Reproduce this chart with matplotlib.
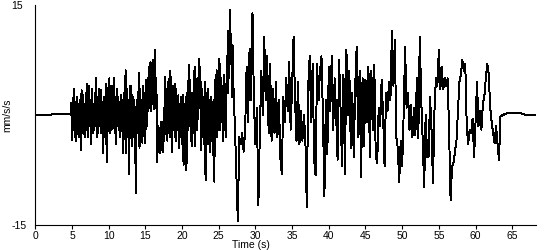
import numpy as np
import matplotlib
matplotlib.use('Agg')
import matplotlib.pyplot as plt

plt.rcParams['font.family'] = ['Liberation Sans', 'DejaVu Sans']
plt.rcParams['font.size'] = 7.5

# quiet trace before the first arrival
pre_t = [0.0, 2.2, 2.2, 4.8]
pre_v = [0.0, 0.0, 0.1, 0.1]

# strong shaking, every 0.1 s (one row = one second)
burst_t0 = 4.8
burst_dt = 0.1
burst_v = [
  0.0, 1.6,
  -3.4, 2.3, -2.0, 3.6, -3.0, 1.8, -3.6, 2.5, -2.2, 1.5,     # 5
  -3.0, 2.0, -4.8, 3.4, -2.5, 2.8, -2.6, 1.5, -3.0, 3.0,     # 6
  -2.0, 4.3, -3.0, 4.0, -1.5, 2.0, -3.9, 3.6, -2.5, 1.5,     # 7
  -2.0, 3.0, -1.5, 5.0, -3.0, 2.5, -2.5, 3.5, -1.5, 3.4,     # 8
  -2.5, 1.0, -5.2, 2.5, -3.0, 1.5, -4.0, 4.3, -6.4, 3.5,     # 9
  -2.0, 5.0, -2.5, 3.0, -2.0, 4.0, -1.5, 5.0, -2.5, 2.5,     # 10
  -3.9, 3.6, -1.5, 2.5, -2.0, 1.8, -3.0, 2.8, -1.5, 2.0,     # 11
  -5.2, 3.0, -2.0, 6.1, -5.2, 3.5, -3.0, 2.0, -8.0, 3.9,     # 12
  -2.5, 3.9, -4.3, 2.5, -3.0, 2.0, -2.0, -10.6, 2.0, -2.5,   # 13
  -1.0, 5.7, -4.5, 3.5, -3.0, 2.0, -3.8, 4.0, -2.0, 3.0,     # 14
  -3.8, 4.8, -1.5, 5.0, 0.5, 6.5, 1.0, 7.3, 0.5, 6.8,        # 15
  1.5, 7.5, 0.8, 8.9, 1.0, 5.0, -6.4, -1.5, -5.0, -1.8,      # 16
  -5.2, -1.0, -4.8, -1.2, -5.0, 1.0, -3.5, 5.2, -2.0, 3.5,   # 17
  -3.5, 4.5, -2.5, 6.0, -3.0, 5.2, -5.0, 4.0, -2.0, 3.5,     # 18
  -3.0, 4.3, -3.5, 2.5, -2.0, 2.7, -4.5, 1.5, -3.0, 2.5,     # 19
  -4.0, 2.8, -6.8, 1.5, -3.0, 2.5, -7.5, 3.0, -2.0, 6.8,     # 20
  -1.5, 4.8, -3.5, 3.0, -4.3, 2.5, -2.5, 6.6, -4.3, 4.8,     # 21
  -2.0, 5.0, -0.5, 7.7, 1.0, 6.5, -4.8, 3.5, -3.0, 2.5,      # 22
  -4.0, 4.5, -8.9, 3.0, -2.5, 3.5, -4.0, 2.0, -5.0, 2.5,     # 23
  -3.5, 1.8, -5.5, 2.0, -9.1, 4.8, -1.5, 6.1, -3.0, 4.0,     # 24
  -2.0, 7.7, -2.0, 5.0, -1.0, 4.0, -3.5, 5.5, -2.0, 4.3,     # 25
  -3.0, 8.0, 3.0, 11.5, 5.0, 14.3, 7.0, 11.0, 2.5, 9.5,      # 26
]

# later, slower part, read every 0.2 s
late_t0 = 27.0
late_dt = 0.2
late_v = [
  4.0, -1.5, -8.0, -14.5, -3.0,   # 27
  -4.0, -2.5, -5.0, -2.0, 6.6,    # 28
  -1.0, 9.0, 2.0, 13.9, 1.5,      # 29
  -4.0, 1.0, -12.3, -2.5, 6.0,    # 30
  0.0, 10.7, 2.0, 8.0, -2.5,      # 31
  7.0, -3.5, 3.5, -2.5, 4.5,      # 32
  -3.0, 2.0, -5.9, -8.0, 2.5,     # 33
  -1.0, 5.0, 0.5, 7.3, -2.0,      # 34
  4.0, 10.7, 2.0, -3.5, 4.5,      # 35
  -4.0, 0.5, -3.5, 0.0, -3.0,     # 36
  -12.5, 4.0, 8.0, -1.0, 7.0,     # 37
  -6.0, -8.2, 7.0, 2.0, 6.0,      # 38
  8.0, 0.0, -11.1, 2.0, -5.3,     # 39
  6.5, 0.5, 8.0, -2.0, 5.0,       # 40
  0.0, -6.1, 7.5, 1.0, -7.0,      # 41
  5.5, -8.0, 8.9, 0.0, 6.0,       # 42
  -4.5, 3.0, -5.7, 4.0, 9.3,      # 43
  -3.0, 6.0, -8.4, 5.0, -4.3,     # 44
  4.8, -1.0, 6.6, -5.7, 6.0,      # 45
  -2.0, 6.8, -5.7, -6.5, 1.0,     # 46
  -1.5, 4.8, 0.0, -7.0, 3.0,      # 47
  0.5, 4.5, 2.0, 11.4, 4.0,       # 48
  10.3, -3.0, -4.5, -9.1, -3.5,   # 49
  -7.0, 0.0, 9.3, 1.0, 3.0,       # 50
  -2.0, 1.4, -3.0, 1.0, -2.8,     # 51
  5.0, -3.2, 10.7, 2.0, -3.5,     # 52
  -9.8, 0.0, -5.7, -5.7, 2.5,     # 53
  -2.0, -9.3, 0.5, 5.0, 4.0,      # 54
  8.9, 3.5, 6.5, 3.5, 5.0,        # 55
  4.0, 5.0, -2.5, -11.6, -7.0,    # 56
  -6.5, -5.0, -3.5, 0.5, 4.5,     # 57
  5.5, 7.5, 6.0, 7.0, -1.5,       # 58
  -3.9, -2.0, -2.5, -0.5, -5.7,   # 59
  -1.0, 4.5, -1.5, 0.5, -2.0,     # 60
  1.5, 2.5, 5.0, 7.0, 5.5,        # 61
  1.0, -1.0, -2.5, -3.8, -1.5,    # 62
  -4.0, -6.1, -0.2,               # 63
]

# slow drift after the shaking stops
coda_t = [63.4, 63.7, 64.3, 65.5, 66.1, 66.8, 68.2]
coda_v = [-0.2, 0.0, 0.23, 0.25, 0.23, 0.05, 0.0]

xticks = [0, 5, 10, 15, 20, 25, 30, 35, 40, 45, 50, 55, 60, 65]

burst_t = burst_t0 + burst_dt * np.arange(len(burst_v))
late_t = late_t0 + late_dt * np.arange(len(late_v))

t = np.concatenate([pre_t, burst_t, late_t, coda_t])
v = np.concatenate([pre_v, burst_v, late_v, coda_v])

fig = plt.figure(figsize=(5.5, 2.5), dpi=100)
ax = fig.add_axes([0.0642, 0.1, 0.9098, 0.88])
ax.plot(t, v, color='black', linewidth=0.7, antialiased=False)

ax.set_xlim(0, 68.2)
ax.set_ylim(-15, 15)
ax.spines['top'].set_visible(False)
ax.spines['right'].set_visible(False)
ax.spines['left'].set_linewidth(0.8)
ax.spines['bottom'].set_linewidth(0.8)

ax.set_xticks(xticks)
ax.tick_params(axis='x', direction='out', length=3, width=0.8, pad=1)
ax.set_yticks([-15, 15])
ax.set_yticklabels(['-15', '15'])
ax.tick_params(axis='y', length=0, pad=17)
for lab in ax.get_yticklabels():
  lab.set_horizontalalignment('left')

ax.set_xlabel('Time (s)')
ax.xaxis.set_label_coords(0.431, -0.068)
ax.set_ylabel('mm/s/s')
ax.yaxis.set_label_coords(-0.047, 0.5)

plt.savefig('out.png', dpi=100)
